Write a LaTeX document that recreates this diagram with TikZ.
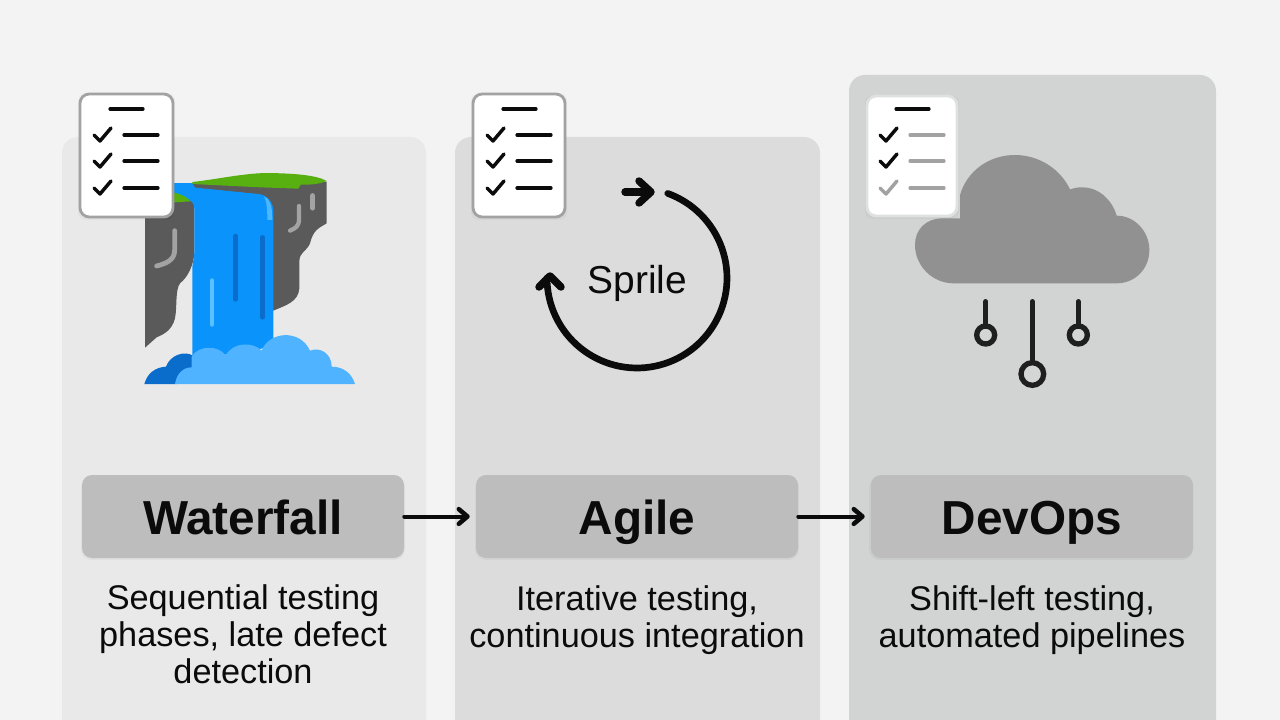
\documentclass[tikz,border=0pt]{standalone}
\usepackage{fontspec}
\setmainfont{Liberation Sans}
\usetikzlibrary{arrows.meta}
\definecolor{bgc}{HTML}{F3F3F3}
\definecolor{panA}{HTML}{E9E9E9}
\definecolor{panB}{HTML}{DCDCDC}
\definecolor{panC}{HTML}{D2D3D3}
\definecolor{lab}{HTML}{BDBDBD}
\definecolor{ink}{HTML}{0B0B0B}
\definecolor{rock}{HTML}{5A5A5A}
\definecolor{rockl}{HTML}{A3A3A3}
\definecolor{grass}{HTML}{58AF10}
\definecolor{water}{HTML}{0A94FB}
\definecolor{waterl}{HTML}{5AC0FF}
\definecolor{waterd}{HTML}{0A6CCB}
\definecolor{foam}{HTML}{4FB3FF}
\definecolor{cloudc}{HTML}{919191}
\definecolor{grayline}{HTML}{A2A2A2}
\tikzset{
  panel/.style={rounded corners=12pt,draw=none},
  labelbox/.style={rectangle,rounded corners=7.5pt,fill=lab,minimum width=241.5pt,minimum height=62.25pt,inner sep=0pt,text height=27.5pt,text depth=0pt,font=\fontsize{35.8}{36}\selectfont\bfseries,text=ink},
  bodytext/.style={align=center,inner sep=0pt,text=ink,font=\fontsize{25.7}{27.75}\selectfont},
  flow/.style={draw=ink,line width=3pt,line cap=round,-{Straight Barb[length=6.5pt,width=11pt,line width=3.4pt,round]},shorten >=4.5pt},
  cline/.style={line width=2.4pt,line cap=round},
  ccheck/.style={line width=2.6pt,line cap=round,line join=round},
  loopline/.style={draw=ink,line width=5pt,line cap=round,line join=round},
  loophead/.style={draw=ink,line width=5.6pt,line cap=round,line join=round},
  pipe/.style={draw=ink!92!white,line width=4pt,line cap=round},
  streak/.style={line cap=round},
}
\newcommand{\chkcard}[7]{%
  \begin{scope}[shift={(#1,0)}]
    \fill[black,opacity=.03,rounded corners=6pt] (#2-2,#4-1) rectangle (#3+2,#5+3);
    \draw[#6,line width=2.1pt,fill=white,rounded corners=7pt] (#2,#4) rectangle (#3,#5);
    \draw[ink,cline] (110,109) -- (143,109);
    \foreach \yy in {135,161,188}{\draw[#7,cline] (124,\yy) -- (158,\yy);}
    \draw[ink,ccheck] (94,135) -- (100,141) -- (111,128);
    \draw[ink,ccheck] (94,161) -- (100,167) -- (111,154);
  \end{scope}}
\begin{document}
\begin{tikzpicture}[x=0.75pt,y=-0.75pt]
\useasboundingbox (0,0) rectangle (1280,720);
\fill[bgc] (0,0) rectangle (1280,720);
% panels
\fill[panA,panel] (62,137) rectangle (426,760);
\fill[panB,panel] (455,137) rectangle (820,760);
\fill[panC,panel] (849,75) rectangle (1216,760);
% waterfall
\begin{scope}[shift={(60,80)},x=0.25pt,y=-0.25pt]
  \fill[water] (330,310) rectangle (420,380);
  \fill[rock] (255,380) -- (340,365) -- (390,362) .. controls (400,370) and (403,375) .. (403,390) -- (403,520) .. controls (400,555) and (385,590) .. (360,610) .. controls (345,630) and (352,680) .. (345,715) .. controls (335,755) and (305,765) .. (290,772) -- (255,803) -- cycle;
  \fill[grass] (330,336) .. controls (360,340) and (380,350) .. (392,364) -- (330,368) -- cycle;
  \fill[rock] (397,310) -- (800,305) -- (800,430) .. controls (775,445) and (760,450) .. (750,490) .. controls (740,515) and (718,515) .. (718,545) -- (718,625) .. controls (715,665) and (680,675) .. (640,692) -- (600,600) -- cycle;
  \fill[grass] (397,306) .. controls (470,298) and (550,280) .. (620,279) .. controls (700,280) and (770,285) .. (800,303) .. controls (780,312) and (750,315) .. (722,314) -- (715,326) -- (600,322) -- (397,312) -- cycle;
  \fill[water] (340,310) -- (397,322) -- (595,342) .. controls (625,345) and (640,370) .. (640,395) -- (640,800) -- (397,840) -- (397,560) -- (403,520) -- (403,385) .. controls (403,370) and (395,360) .. (385,350) -- (340,325) -- cycle;
  \fill[waterl!80!water] (612,349) .. controls (628,355) and (637,375) .. (637,420) -- (622,420) .. controls (622,385) and (620,365) .. (612,349) -- cycle;
  \draw[waterd,line width=3.4pt,streak] (527,468) -- (527,658);
  \draw[waterd,line width=3.4pt,streak] (607,472) -- (607,712);
  \draw[waterl,line width=3.6pt,streak] (456,602) -- (456,733);
  \draw[rockl,line width=3.6pt,line join=round,streak] (344,452) -- (344,510) .. controls (344,540) and (320,550) .. (290,558);
  \draw[rockl,line width=3.2pt,line join=round,streak] (717,378) -- (717,418) .. controls (717,440) and (705,445) .. (690,452);
  \draw[rockl,line width=3.8pt,streak] (758,347) -- (758,384);
  \fill[waterd] (253,912) .. controls (262,880) and (285,862) .. (318,860) .. controls (330,825) and (375,810) .. (400,828) -- (400,880) -- (350,912) -- cycle;
  \fill[foam] (345,912) .. controls (350,880) and (370,862) .. (395,862) -- (395,830) .. controls (415,795) and (475,795) .. (497,826) .. controls (520,785) and (580,785) .. (605,812) .. controls (625,755) and (720,745) .. (750,812) .. controls (780,800) and (815,820) .. (815,860) .. controls (850,860) and (875,880) .. (885,912) -- cycle;
\end{scope}
% cycle icon
\draw[loopline] plot[domain=70:-180,samples=80] ({637+90*cos(\x)},{278-90*sin(\x)});
\draw[loophead] (539,287) -- (550,276) -- (561,287);
\draw[loophead] (625,192) -- (650,192);
\draw[loophead] (639,181) -- (651,192) -- (639,203);
\node (sprile) at (637.5,283) [inner sep=0pt,text=ink,font=\fontsize{29.2}{30}\selectfont] {Sprile};
% cloud
\begin{scope}[shift={(850,70)},x=0.25pt,y=-0.25pt]
  \fill[cloudc] (310,640) -- (800,640) .. controls (855,640) and (898,597) .. (898,540) .. controls (898,485) and (855,437) .. (800,437) .. controls (785,385) and (740,350) .. (695,352) .. controls (680,352) and (670,355) .. (660,358) .. controls (630,295) and (565,255) .. (495,255) .. controls (415,255) and (350,305) .. (330,375) -- (330,445) -- (280,445) .. controls (225,445) and (195,480) .. (195,525) .. controls (195,590) and (250,640) .. (310,640) -- cycle;
  \draw[pipe] (407,695) -- (407,768);
  \draw[pipe] (685,695) -- (685,768);
  \draw[pipe] (547,695) -- (547,875);
  \draw[pipe,fill=panC!95!white] (407,795) circle[radius=27];
  \draw[pipe,fill=panC!95!white] (685,795) circle[radius=27];
  \draw[pipe,fill=panC!95!white] (547,912) circle[radius=34];
\end{scope}
% cards
\chkcard{0}{80}{173}{94}{217}{grayline}{ink}
\chkcard{393}{80}{172}{94}{217}{grayline}{ink}
\chkcard{786}{81}{171}{96}{216}{panC!70!white}{grayline}
\begin{scope}[shift={(786,0)}]
  \draw[grayline,ccheck] (94,188) -- (100,194) -- (111,181);
\end{scope}
\foreach \dx in {0,393}{
  \draw[ink,ccheck,shift={(\dx,0)}] (94,188) -- (100,194) -- (111,181);
}
% soft shadows of label boxes
\foreach \xa in {82,476,870}{
  \fill[black,opacity=.035,rounded corners=8pt] (\xa-1,477) rectangle (\xa+323,560);
}
% labels
\node[labelbox] (waterfall) at (243,516.5) {Waterfall};
\node[labelbox] (agile) at (637,516.5) {Agile};
\node[labelbox] (devops) at (1032,516.5) {DevOps};
\draw[flow] (waterfall) -- (agile);
\draw[flow] (agile) -- (devops);
\node[bodytext] (t1) at (243,634.5) {Sequential testing\\phases, late defect\\detection};
\node[bodytext] (t2) at (637,620) {Iterative testing,\\continuous integration};
\node[bodytext] (t3) at (1032,620) {Shift-left testing,\\automated pipelines};
\end{tikzpicture}
\end{document}
